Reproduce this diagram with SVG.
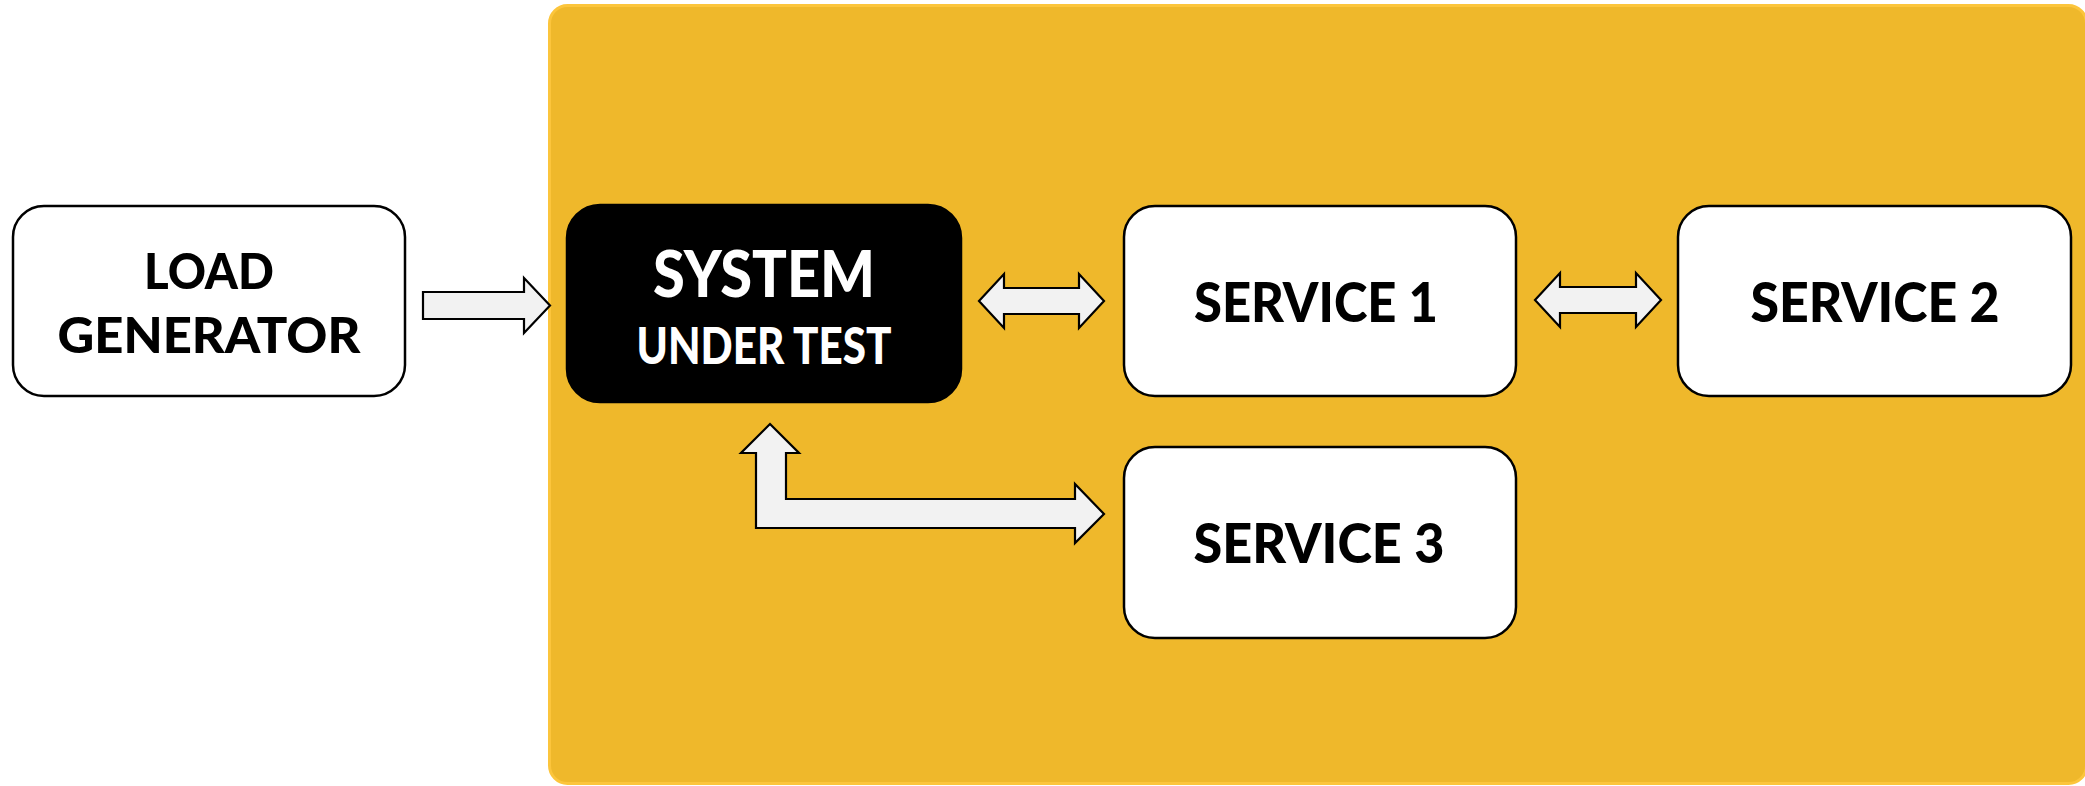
<svg xmlns="http://www.w3.org/2000/svg" width="2085" height="786" viewBox="0 0 2085 786">
<style>
.box{fill:#ffffff;stroke:#000000;stroke-width:2.5}
.dark{fill:#000000;stroke:#000000;stroke-width:2.5}
.lbl{font-family:Lato,"Open Sans","Liberation Sans",sans-serif;font-weight:900;fill:#000000;text-anchor:middle}
.wl{fill:#ffffff}
.arr{fill:#f2f2f2;stroke:#000000;stroke-width:2.2;stroke-linejoin:miter}
</style>
<rect width="2085" height="786" fill="#ffffff"/>
<g id="container">
<rect x="549.5" y="5.5" width="1537" height="778" rx="18" fill="#efb82b" stroke="#fcc53c" stroke-width="3"/>
</g>
<g id="load-generator">
<rect class="box" x="13" y="206" width="392" height="190" rx="31"/>
<text class="lbl" x="209" y="289" font-size="50" textLength="130" lengthAdjust="spacingAndGlyphs">LOAD</text>
<text class="lbl" x="209" y="353" font-size="50" textLength="303" lengthAdjust="spacingAndGlyphs">GENERATOR</text>
</g>
<g id="system-under-test">
<rect class="dark" x="567" y="205" width="394" height="197" rx="33"/>
<text class="lbl wl" x="764" y="297" font-size="65" textLength="222" lengthAdjust="spacingAndGlyphs">SYSTEM</text>
<text class="lbl wl" x="764" y="364" font-size="52" textLength="255" lengthAdjust="spacingAndGlyphs">UNDER TEST</text>
</g>
<g id="service-1">
<rect class="box" x="1124" y="206" width="392" height="190" rx="31"/>
<text class="lbl" x="1316" y="322" font-size="55" textLength="244" lengthAdjust="spacingAndGlyphs">SERVICE 1</text>
</g>
<g id="service-2">
<rect class="box" x="1678" y="206" width="393" height="190" rx="31"/>
<text class="lbl" x="1875" y="322" font-size="55" textLength="249" lengthAdjust="spacingAndGlyphs">SERVICE 2</text>
</g>
<g id="service-3">
<rect class="box" x="1124" y="447" width="392" height="191" rx="31"/>
<text class="lbl" x="1319" y="563" font-size="55" textLength="251" lengthAdjust="spacingAndGlyphs">SERVICE 3</text>
</g>
<g id="connectors">
<polygon class="arr" points="423,292 524,292 524,278 550,305.5 524,333 524,319 423,319"/>
<polygon class="arr" points="979,301 1004,274 1004,288 1079,288 1079,274 1104,301 1079,328 1079,314 1004,314 1004,328"/>
<polygon class="arr" points="1535,300 1560,273 1560,287 1636,287 1636,273 1661,300 1636,327 1636,313 1560,313 1560,327"/>
<polygon class="arr" points="770,424 799,453 786,453 786,499 1075,499 1075,484 1104,514 1075,543 1075,528 756,528 756,453 741,453"/>
</g>
</svg>
